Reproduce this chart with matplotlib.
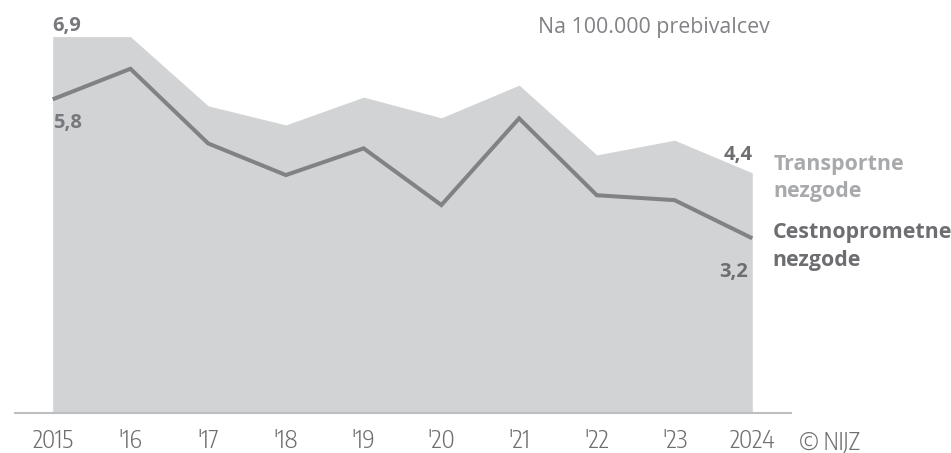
import matplotlib
matplotlib.use("Agg")
from matplotlib import pyplot as plt
from matplotlib import font_manager as fm

# data (per 100.000 inhabitants)
years = [2015, 2016, 2017, 2018, 2019, 2020, 2021, 2022, 2023, 2024]
tick_labels = ["2015", "'16", "'17", "'18", "'19", "'20", "'21", "'22", "'23", "2024"]
transport = [6.9, 6.9, 5.63, 5.28, 5.79, 5.41, 6.01, 4.73, 5.0, 4.4]
road = [5.75, 6.31, 4.94, 4.36, 4.85, 3.81, 5.40, 3.99, 3.90, 3.2]

fill_col = "#d1d3d4"
line_col = "#808285"
dark = "#6d6e71"
light = "#a7a9ac"

# narrow light font for the axis labels, first one that is installed
installed = {f.name for f in fm.fontManager.ttflist}
narrow = "DejaVu Sans"
for cand in ["Encode Sans Condensed", "Barlow Semi Condensed", "Asap Condensed", "Archivo Narrow"]:
    if cand in installed:
        narrow = cand
        break

fig = plt.figure(figsize=(9.51, 4.53), dpi=100)
ax = fig.add_axes([15 / 951, 40.3 / 453, 775.7 / 951, 412.7 / 453])

ax.fill_between(years, transport, 0, color=fill_col, lw=0)
ax.plot(years, road, color=line_col, lw=2.9, solid_joinstyle="miter", solid_capstyle="butt")

ax.set_xlim(2014.515, 2024.494)
ax.set_ylim(0, 7.572)

for s in ["top", "right", "left"]:
    ax.spines[s].set_visible(False)
ax.spines["bottom"].set_color("#bcbec0")
ax.spines["bottom"].set_linewidth(1.5)
ax.set_yticks([])
ax.set_xticks(years)
ax.set_xticklabels(tick_labels, family=narrow, fontweight=300, fontsize=17.5, color="#6d6e71")
ax.tick_params(axis="x", length=0, pad=11.5)

bold = dict(family="Open Sans", fontweight="bold", va="baseline", textcoords="offset points")

# value labels
ax.annotate("6,9", (years[0], transport[0]), xytext=(0, 4.3), ha="left", color="#77787b",
            fontsize=14.5, **bold)
ax.annotate("5,8", (years[0], road[0]), xytext=(0, -20.7), ha="left", color="#77787b",
            fontsize=14.5, **bold)
ax.annotate("4,4", (years[-1], transport[-1]), xytext=(0.5, 9.1), ha="right", color=dark,
            fontsize=14.5, **bold)
ax.annotate("3,2", (years[-1], road[-1]), xytext=(-3, -27.9), ha="right", color=dark,
            fontsize=14.5, **bold)

# series names
ax.annotate("Transportne", (years[-1], transport[-1]), xytext=(15, 1.9), ha="left", color=light,
            annotation_clip=False, fontsize=15.4, **bold)
ax.annotate("nezgode", (years[-1], transport[-1]), xytext=(15, -17.5), ha="left", color=light,
            annotation_clip=False, fontsize=15.4, **bold)
ax.annotate("Cestnoprometne", (years[-1], road[-1]), xytext=(14.4, 0), ha="left", color=dark,
            annotation_clip=False, fontsize=15.4, **bold)
ax.annotate("nezgode", (years[-1], road[-1]), xytext=(14.4, -20), ha="left", color=dark,
            annotation_clip=False, fontsize=15.4, **bold)

fig.text(538 / 951, 1 - 33.3 / 453, "Na 100.000 prebivalcev", family="Open Sans",
         fontsize=15.4, color=line_col, va="baseline", ha="left")
fig.text(799 / 951, 1 - 449 / 453, "\u00a9 NIJZ", family=narrow, fontweight=300,
         fontsize=17, color="#6d6e71", va="baseline", ha="left")

fig.savefig("out.png", dpi=100)
